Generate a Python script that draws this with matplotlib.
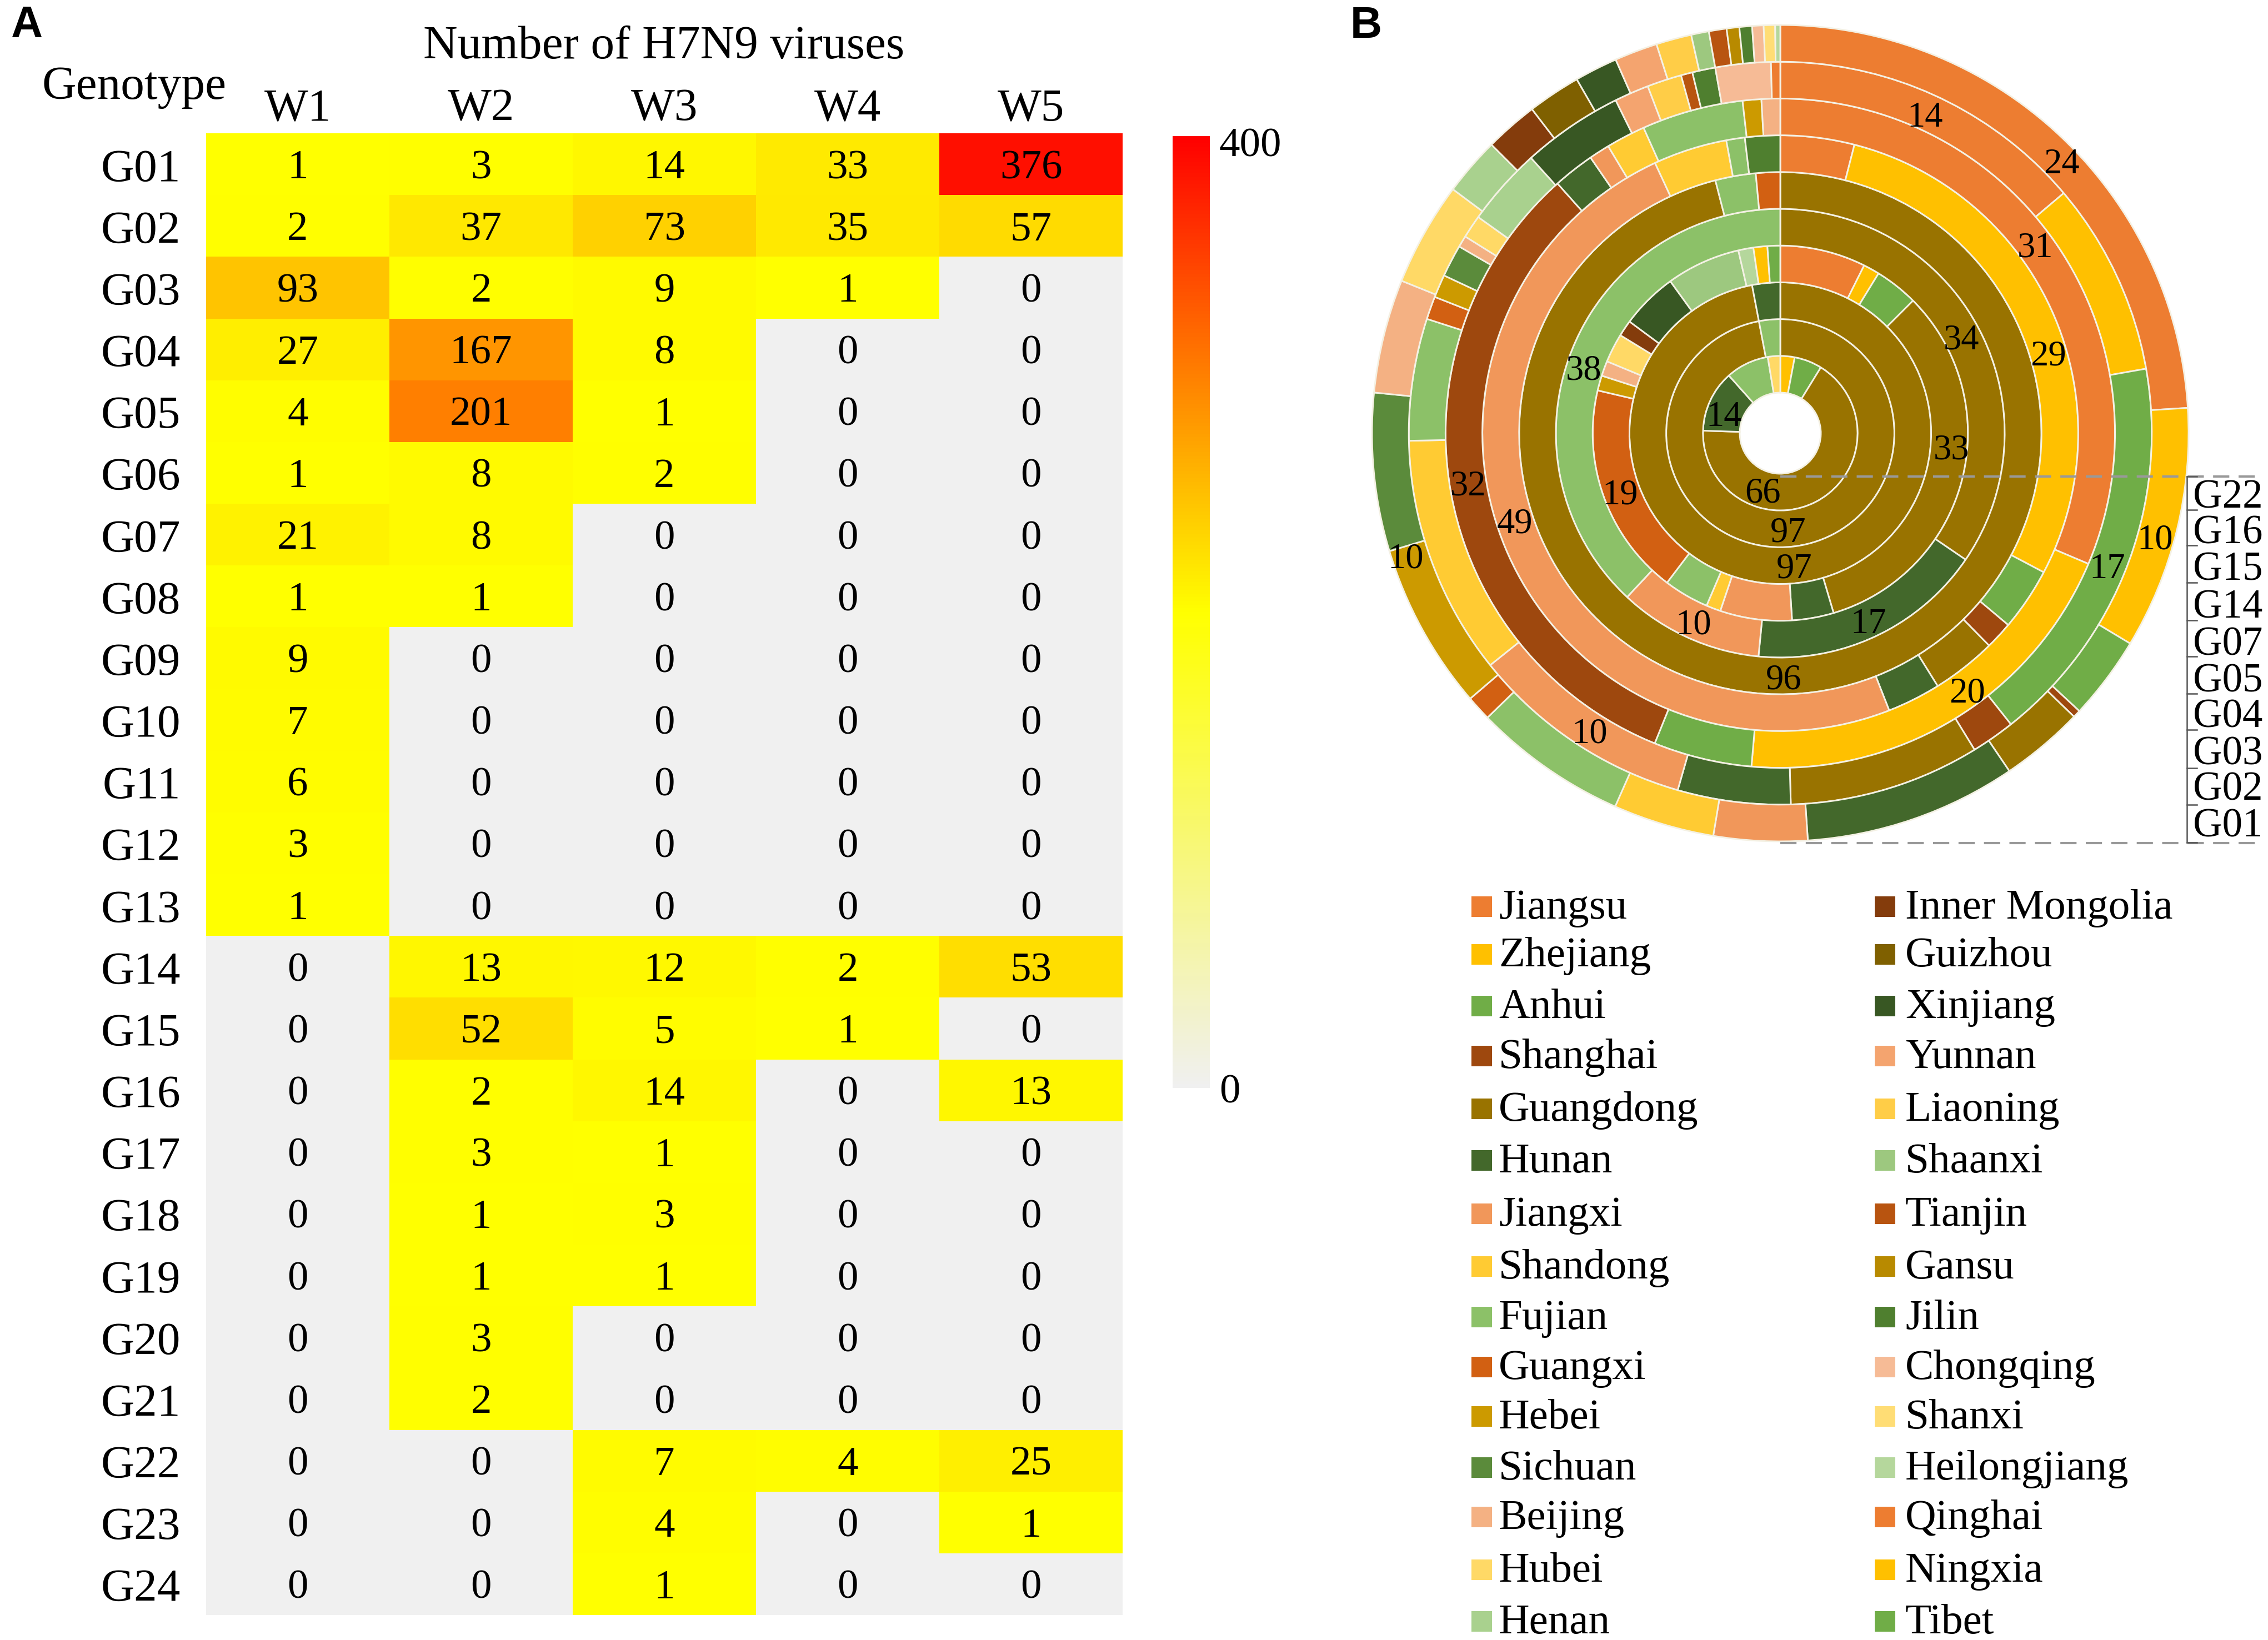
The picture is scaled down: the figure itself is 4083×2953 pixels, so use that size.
import numpy as np
import matplotlib
matplotlib.use("Agg")
from matplotlib import pyplot as plt
from matplotlib.cm import ScalarMappable
from matplotlib.colors import LinearSegmentedColormap, Normalize
from matplotlib.patches import Rectangle
from matplotlib.transforms import ScaledTranslation

# panel A
genotypes = [f"G{i:02d}" for i in range(1, 25)]
waves = ["W1", "W2", "W3", "W4", "W5"]
w1 = [1, 2, 93, 27, 4, 1, 21, 1, 9, 7, 6, 3, 1, 0, 0, 0, 0, 0, 0, 0, 0, 0, 0, 0]
w2 = [3, 37, 2, 167, 201, 8, 8, 1, 0, 0, 0, 0, 0, 13, 52, 2, 3, 1, 1, 3, 2, 0, 0, 0]
w3 = [14, 73, 9, 8, 1, 2, 0, 0, 0, 0, 0, 0, 0, 12, 5, 14, 1, 3, 1, 0, 0, 7, 4, 1]
w4 = [33, 35, 1, 0, 0, 0, 0, 0, 0, 0, 0, 0, 0, 2, 1, 0, 0, 0, 0, 0, 0, 4, 0, 0]
w5 = [376, 57, 0, 0, 0, 0, 0, 0, 0, 0, 0, 0, 0, 53, 0, 13, 0, 0, 0, 0, 0, 25, 1, 0]

# panel B, legend order, two columns
legend_left = ["Jiangsu", "Zhejiang", "Anhui", "Shanghai", "Guangdong", "Hunan", "Jiangxi",
               "Shandong", "Fujian", "Guangxi", "Hebei", "Sichuan", "Beijing", "Hubei", "Henan"]
legend_right = ["Inner Mongolia", "Guizhou", "Xinjiang", "Yunnan", "Liaoning", "Shaanxi", "Tianjin",
                "Gansu", "Jilin", "Chongqing", "Shanxi", "Heilongjiang", "Qinghai", "Ningxia", "Tibet"]
province_colors = {
    "Jiangsu": "#ed7d31", "Zhejiang": "#ffc000", "Anhui": "#70ad47", "Shanghai": "#9e480e",
    "Guangdong": "#997300", "Hunan": "#43682b", "Jiangxi": "#f1975a", "Shandong": "#ffcb33",
    "Fujian": "#8cc168", "Guangxi": "#d26012", "Hebei": "#cc9a00", "Sichuan": "#5b8b3b",
    "Beijing": "#f4b183", "Hubei": "#ffd966", "Henan": "#a9d18e", "Inner Mongolia": "#843c0c",
    "Guizhou": "#7f6000", "Xinjiang": "#385723", "Yunnan": "#f4a46f", "Liaoning": "#ffcd47",
    "Shaanxi": "#9dc87f", "Tianjin": "#b85410", "Gansu": "#b88a00", "Jilin": "#4f7f2f",
    "Chongqing": "#f6bb96", "Shanxi": "#ffdd75", "Heilongjiang": "#b5d79c", "Qinghai": "#ed7d31",
    "Ningxia": "#ffc000", "Tibet": "#70ad47",
}

# share of each province in a genotype, clockwise from 12 o'clock, outermost ring is G01
ring_names = ["G22", "G16", "G15", "G14", "G07", "G05", "G04", "G03", "G02", "G01"]

g01_provinces = ["Jiangsu", "Zhejiang", "Anhui", "Shanghai", "Guangdong", "Hunan", "Jiangxi", "Shandong",
                 "Fujian", "Guangxi", "Hebei", "Sichuan", "Beijing", "Hubei", "Henan", "Inner Mongolia",
                 "Guizhou", "Xinjiang", "Yunnan", "Liaoning", "Shaanxi", "Tianjin", "Gansu", "Jilin",
                 "Chongqing", "Shanxi", "Heilongjiang"]
g01_share = [24, 9.6, 3.3, 0.3, 3.3, 8.4, 3.7, 4, 6.1, 1, 6.6, 6.25, 4.5, 4.1, 2.3, 2.1,
             2.1, 1.7, 1.7, 1.4, 0.7, 0.7, 0.5, 0.5, 0.45, 0.45, 0.2]

g02_provinces = ["Jiangsu", "Zhejiang", "Anhui", "Shanghai", "Guangdong", "Hunan", "Jiangxi", "Shandong",
                 "Fujian", "Guangxi", "Hebei", "Sichuan", "Beijing", "Hubei", "Henan", "Xinjiang",
                 "Yunnan", "Liaoning", "Tianjin", "Jilin", "Chongqing", "Qinghai"]
g02_share = [13.8, 8.4, 17.1, 1.9, 8.3, 4.9, 9.8, 10.4, 5.3, 1, 1, 1.4, 0.5, 1, 3.4, 4.4,
             1.5, 1.5, 0.5, 1, 2.4, 0.4]

g03_provinces = ["Jiangsu", "Zhejiang", "Anhui", "Shanghai", "Hunan", "Jiangxi", "Shandong", "Fujian",
                 "Hebei", "Beijing"]
g03_share = [31.4, 20, 4.75, 32.3, 2, 1, 1.9, 4.9, 0.9, 0.9]

g04_provinces = ["Jiangsu", "Zhejiang", "Anhui", "Shanghai", "Guangdong", "Hunan", "Jiangxi", "Shandong",
                 "Fujian", "Jilin"]
g04_share = [4, 28.7, 3.4, 1.5, 3.5, 2.9, 49, 4, 1, 1.9]

g05_provinces = ["Guangdong", "Fujian", "Guangxi"]
g05_share = [96, 2.5, 1.5]

g07_provinces = ["Guangdong", "Hunan", "Jiangxi", "Fujian"]
g07_share = [34.5, 17, 10.4, 38]

g14_provinces = ["Jiangsu", "Zhejiang", "Anhui", "Guangdong", "Hunan", "Jiangxi", "Shandong", "Fujian",
                 "Guangxi", "Hebei", "Beijing", "Hubei", "Inner Mongolia", "Xinjiang", "Shaanxi",
                 "Heilongjiang", "Ningxia", "Tibet"]
g14_share = [7.4, 1.4, 3.75, 33, 3.6, 6.2, 1.25, 3.9, 18.4, 1.3, 1.3, 2.5, 1.4, 4.9, 6.4, 1.3, 1.2, 1.1]

g15_provinces = ["Guangdong", "Hunan"]
g15_share = [97, 3]

g16_provinces = ["Guangdong", "Fujian"]
g16_share = [97, 3]

g22_provinces = ["Zhejiang", "Anhui", "Guangdong", "Hunan", "Fujian", "Hubei"]
g22_share = [3, 5.8, 66.8, 12.9, 9, 2.6]

# layout, all in pixels of the 4083x2954 picture
W, H = 4083, 2954
HEAT_BOX = (371, 241, 2021, 2909)
CBAR_BOX = (2111, 246, 2178, 1960)
CENTER_X, CENTER_Y = 3205, 781
HOLE = 73
RING_W = 66.2
SERIF = "Liberation Serif"

share_labels = [
    ("14", 3466, 212), ("24", 3711, 296), ("31", 3664, 447), ("29", 3687, 642), ("34", 3531, 613),
    ("33", 3513, 811), ("14", 3104, 751), ("38", 2851, 668), ("19", 2917, 892), ("32", 2643, 876),
    ("49", 2727, 944), ("66", 3174, 889), ("97", 3219, 960), ("97", 3230, 1025), ("10", 3880, 973),
    ("17", 3794, 1025), ("17", 3364, 1124), ("10", 2531, 1007), ("10", 3049, 1126), ("96", 3211, 1225),
    ("20", 3541, 1249), ("10", 2862, 1322),
]
legend_rows = [1636, 1722, 1815, 1905, 2000, 2093, 2189, 2284, 2375, 2465, 2554, 2646, 2735, 2830, 2923]
bracket_ticks = [859, 919, 983, 1050, 1118, 1183, 1250, 1315, 1384, 1450, 1518]
bracket_labels = [897, 961, 1027, 1095, 1162, 1228, 1292, 1359, 1423, 1489]


def px_axes(fig, box, **kwargs):
    x0, y0, x1, y1 = box
    return fig.add_axes([x0 / W, 1 - y1 / H, (x1 - x0) / W, (y1 - y0) / H], **kwargs)


def draw_heatmap(fig):
    counts = np.array([w1, w2, w3, w4, w5]).T
    cell_cmap = LinearSegmentedColormap.from_list("cells", ["#ffff00", "#ff0000"])
    cell_cmap.set_bad("#f0f0f0")

    ax = px_axes(fig, HEAT_BOX)
    ax.pcolormesh(np.ma.masked_equal(counts, 0), cmap=cell_cmap, vmin=0, vmax=400)
    ax.invert_yaxis()
    for row, col in np.ndindex(counts.shape):
        ax.text(col + 0.5, row + 0.56, str(counts[row, col]), ha="center", va="center",
                family=SERIF, fontsize=18)

    ax.xaxis.tick_top()
    ax.set_xticks(np.arange(len(waves)) + 0.5, waves, family=SERIF, fontsize=20)
    ax.set_yticks(np.arange(len(genotypes)) + 0.5, genotypes, family=SERIF, fontsize=20)
    ax.tick_params(length=0)
    ax.tick_params(axis="x", pad=1.5)
    ax.tick_params(axis="y", pad=11)
    for spine in ax.spines.values():
        spine.set_visible(False)


def draw_colorbar(fig):
    bar_cmap = LinearSegmentedColormap.from_list("bar", ["#f0f0f0", "#ffff00", "#ff0000"])
    cax = px_axes(fig, CBAR_BOX)
    cbar = fig.colorbar(ScalarMappable(Normalize(0, 400), bar_cmap), cax=cax, ticks=[0, 400])
    cbar.outline.set_visible(False)
    cbar.ax.tick_params(length=0, pad=4)
    for label in cbar.ax.get_yticklabels():
        label.set(family=SERIF, fontsize=18)
    # the top label sits a little below the end of the bar
    top = cbar.ax.get_yticklabels()[-1]
    top.set_transform(top.get_transform() + ScaledTranslation(0, -10 / 300, fig.dpi_scale_trans))


def draw_donut(fig):
    rings = [
        (g22_provinces, g22_share), (g16_provinces, g16_share), (g15_provinces, g15_share),
        (g14_provinces, g14_share), (g07_provinces, g07_share), (g05_provinces, g05_share),
        (g04_provinces, g04_share), (g03_provinces, g03_share), (g02_provinces, g02_share),
        (g01_provinces, g01_share),
    ]
    span = 750
    ax = px_axes(fig, (CENTER_X - span, CENTER_Y - span, CENTER_X + span, CENTER_Y + span))
    for i, (provinces, share) in enumerate(rings):
        ax.pie(share, colors=[province_colors[p] for p in provinces], radius=HOLE + RING_W * (i + 1),
               startangle=90, counterclock=False,
               wedgeprops=dict(width=RING_W, edgecolor="#f4f1e4", linewidth=0.7))
    ax.set_xlim(-span, span)
    ax.set_ylim(-span, span)


def draw_overlay(fig):
    # texts and the bracket, in picture pixels
    ax = fig.add_axes([0, 0, 1, 1], facecolor="none")
    ax.set_xlim(0, W)
    ax.set_ylim(H, 0)
    ax.axis("off")

    ax.text(19, 67, "A", family="Liberation Sans", weight="bold", fontsize=19, va="baseline")
    ax.text(2431, 68, "B", family="Liberation Sans", weight="bold", fontsize=19, va="baseline")
    ax.text(242, 178, "Genotype", family=SERIF, fontsize=20.5, ha="center", va="baseline")
    ax.text(1195, 105, "Number of H7N9 viruses", family=SERIF, fontsize=20.5, ha="center", va="baseline")

    for text, x, y in share_labels:
        ax.text(x, y, text, family=SERIF, fontsize=15.5, ha="center", va="center")

    for y in (859, 1519):
        ax.plot([3205, 4060], [y, y], color="#999999", lw=1.0, dashes=(7, 4))
    ax.plot([3937, 3937], [bracket_ticks[0], bracket_ticks[-1]], color="#555555", lw=0.6)
    for y in bracket_ticks:
        ax.plot([3937, 3955], [y, y], color="#555555", lw=0.6)
    for name, y in zip(ring_names, bracket_labels):
        ax.text(3948, y, name, family=SERIF, fontsize=17.5, va="center")

    for names, box_x, text_x in ((legend_left, 2649, 2698), (legend_right, 3375, 3430)):
        for name, y in zip(names, legend_rows):
            ax.add_patch(Rectangle((box_x, y - 21), 37, 37, color=province_colors[name], lw=0))
            ax.text(text_x, y, name, family=SERIF, fontsize=18.5, va="center")


def main():
    fig = plt.figure(figsize=(W / 300, H / 300), dpi=300, facecolor="white")
    draw_heatmap(fig)
    draw_colorbar(fig)
    draw_donut(fig)
    draw_overlay(fig)
    fig.savefig("out.png", dpi=300)
    plt.close(fig)


if __name__ == "__main__":
    main()
